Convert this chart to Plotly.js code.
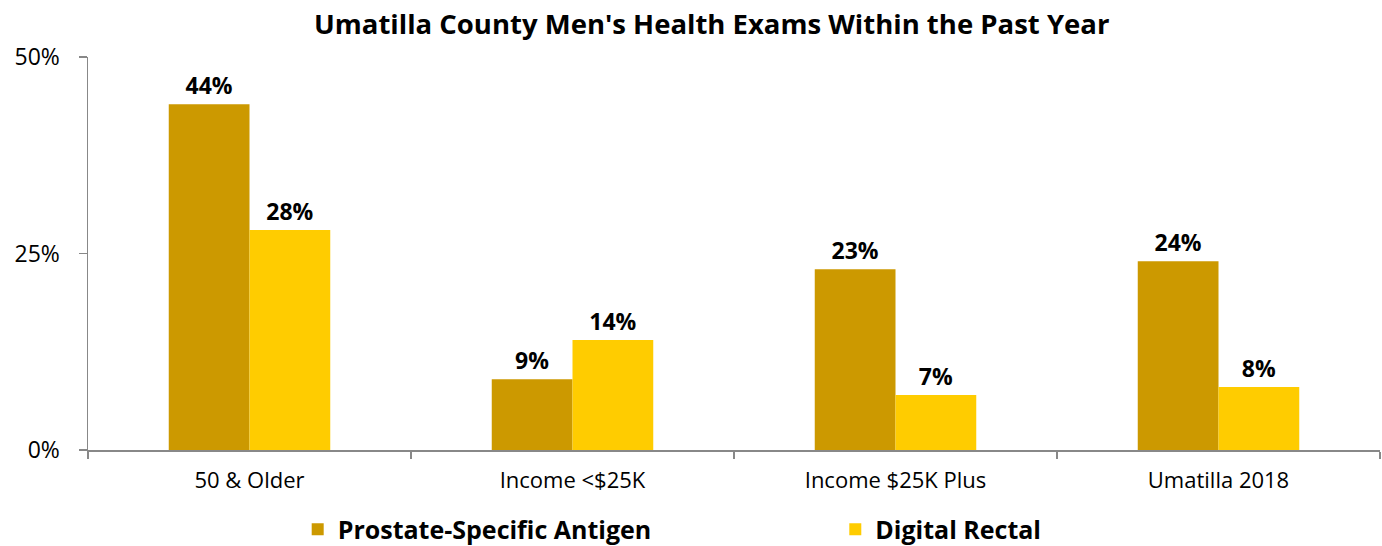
<!DOCTYPE html>
<html><head><meta charset="utf-8">
<script src="https://cdn.plot.ly/plotly-3.0.1.min.js"></script>
<style>body{margin:0;padding:0;background:#fff}#chart{width:1382px;height:546px}</style>
</head><body><div id="chart"></div>
<script>
const categories = ["50 & Older", "Income <$25K", "Income $25K Plus", "Umatilla 2018"];
const psaValues = [44, 9, 23, 24];
const drValues = [28, 14, 7, 8];
const seriesNames = ["Prostate-Specific Antigen", "Digital Rectal"];
const yTicks = [0, 25, 50];

const font = "'Open Sans', 'Noto Sans', sans-serif";
const labelFont = {family: font, size: 23, color: "#000", weight: 700};
const traces = [
  {type: "bar", name: seriesNames[0], legend: "legend", x: categories, y: psaValues, marker: {color: "#CC9900"},
   text: psaValues.map(v => v + "%"), textposition: "outside", textfont: labelFont, cliponaxis: false, hoverinfo: "none"},
  {type: "bar", name: seriesNames[1], legend: "legend2", x: categories, y: drValues, marker: {color: "#FFCC00"},
   text: drValues.map(v => v + "%"), textposition: "outside", textfont: labelFont, cliponaxis: false, hoverinfo: "none"}
];
const legendFont = {family: font, size: 25, color: "#000", weight: 700};
const layout = {
  width: 1382, height: 546,
  margin: {l: 88, r: 2, t: 57, b: 96, autoexpand: false},
  paper_bgcolor: "#fff", plot_bgcolor: "#fff",
  font: {family: font, color: "#000"},
  title: {text: "<b>Umatilla County Men's Health Exams Within the Past Year</b>", font: {family: font, size: 27.5, color: "#000"}, x: 0.515, xanchor: "center", y: 0.955, yanchor: "middle"},
  barmode: "group", bargap: 0.5, bargroupgap: 0,
  xaxis: {type: "category", showline: true, linecolor: "#888", linewidth: 1.5, ticks: "outside", tickson: "boundaries", ticklen: 7, tickcolor: "#888", tickwidth: 1.5, tickfont: {family: font, size: 22, color: "#000"}, showgrid: false, zeroline: false, fixedrange: true, ticklabelstandoff: 10},
  yaxis: {range: [0, 50], tickvals: yTicks, ticktext: yTicks.map(v => v + "%"), showline: true, linecolor: "#888", linewidth: 1.5, ticks: "outside", ticklen: 8, tickcolor: "#888", tickwidth: 1.5, tickfont: {family: font, size: 23, color: "#000"}, showgrid: false, zeroline: false, fixedrange: true, ticklabelstandoff: 14},
  showlegend: true,
  legend: {orientation: "h", xref: "paper", x: 0.1623, xanchor: "left", yref: "container", y: 0.03, yanchor: "middle", font: legendFont, itemwidth: 30, bgcolor: "rgba(0,0,0,0)"},
  legend2: {orientation: "h", xref: "paper", x: 0.5784, xanchor: "left", yref: "container", y: 0.03, yanchor: "middle", font: legendFont, itemwidth: 30, bgcolor: "rgba(0,0,0,0)"}
};
Plotly.newPlot("chart", traces, layout, {displayModeBar: false, staticPlot: true});
</script></body></html>
